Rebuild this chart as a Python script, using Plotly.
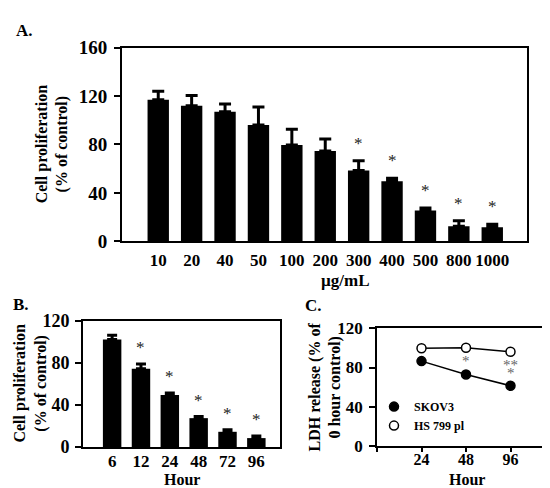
import plotly.graph_objects as go

# ---------------- data ----------------
conc_labels = ["10", "20", "40", "50", "100", "200", "300", "400", "500", "800", "1000"]
prolif_conc = [117, 112, 107, 96, 79.5, 74.5, 58.5, 49.5, 25.5, 12.5, 11.5]
prolif_conc_sd = [7, 8.5, 6.5, 15, 13, 10, 8, 2.5, 2, 4.5, 2.5]
sig_conc = ["", "", "", "", "", "", "*", "*", "*", "*", "*"]

hour_labels_b = ["6", "12", "24", "48", "72", "96"]
prolif_time = [102.5, 74.5, 49.5, 27.5, 14.5, 8.5]
prolif_time_sd = [4, 4.5, 2, 1.5, 2, 2]
sig_time = ["", "*", "*", "*", "*", "*"]

hour_labels_c = ["24", "48", "96"]
ldh_skov3 = [86.5, 73, 61.5]
ldh_hs799 = [99.5, 100, 96]
sig_ldh = ["", "*", "**|*"]

FONT = "Liberation Serif, Times New Roman, serif"
W, H = 550, 488


def px(x):
    return x / W


def py(y):
    return 1 - y / H


fig = go.Figure()

# ---- Panel A ----
fig.add_trace(go.Bar(
    x=conc_labels, y=prolif_conc, xaxis="x", yaxis="y",
    marker=dict(color="black", line=dict(width=0)), width=0.64,
    error_y=dict(type="data", symmetric=False, array=prolif_conc_sd,
                 arrayminus=[0] * len(prolif_conc), color="black", thickness=3, width=6),
    showlegend=False))

# ---- Panel B ----
fig.add_trace(go.Bar(
    x=hour_labels_b, y=prolif_time, xaxis="x2", yaxis="y2",
    marker=dict(color="black", line=dict(width=0)), width=0.64,
    error_y=dict(type="data", symmetric=False, array=prolif_time_sd,
                 arrayminus=[0] * len(prolif_time), color="black", thickness=3, width=5),
    showlegend=False))

# ---- Panel C ----
xc = list(range(len(hour_labels_c)))
fig.add_trace(go.Scatter(x=xc, y=ldh_skov3, xaxis="x3", yaxis="y3", mode="lines",
                         line=dict(color="black", width=1.5), showlegend=False))
fig.add_trace(go.Scatter(x=xc, y=ldh_hs799, xaxis="x3", yaxis="y3", mode="lines",
                         line=dict(color="black", width=1.5), showlegend=False))
fig.add_trace(go.Scatter(x=xc, y=ldh_skov3, xaxis="x3", yaxis="y3", mode="markers",
                         name="SKOV3",
                         marker=dict(symbol="circle", size=9, color="black",
                                     line=dict(color="black", width=1.5))))
fig.add_trace(go.Scatter(x=xc, y=ldh_hs799, xaxis="x3", yaxis="y3", mode="markers",
                         name="HS 799 pl",
                         marker=dict(symbol="circle", size=9, color="white",
                                     line=dict(color="black", width=1.5))))

annotations = []
# significance stars (x given as category index)
for i, (v, s, g) in enumerate(zip(prolif_conc, prolif_conc_sd, sig_conc)):
    if g:
        annotations.append(dict(x=i, y=v + s, xref="x", yref="y", text=g, showarrow=False,
                                yanchor="bottom", yshift=6,
                                font=dict(family=FONT, size=17, color="#222")))
for i, (v, s, g) in enumerate(zip(prolif_time, prolif_time_sd, sig_time)):
    if g:
        annotations.append(dict(x=i, y=v + s, xref="x2", yref="y2", text=g, showarrow=False,
                                yanchor="bottom", yshift=5,
                                font=dict(family=FONT, size=17, color="#222")))
for i, (v, g) in enumerate(zip(ldh_skov3, sig_ldh)):
    if g:
        parts = g.split("|")
        for k, part in enumerate(reversed(parts)):
            annotations.append(dict(x=i, y=v, xref="x3", yref="y3", text=part, showarrow=False,
                                    yanchor="bottom", yshift=3 + 8 * k,
                                    font=dict(family=FONT, size=15, color="#666")))

bold = dict(family=FONT, color="black")


def lab(text, x, y, size, angle=0):
    annotations.append(dict(x=px(x), y=py(y), xref="paper", yref="paper", text=text,
                            showarrow=False, xanchor="center", yanchor="middle",
                            textangle=angle, font=dict(size=size, **bold)))


lab("<b>A.</b>", 16, 13, 17)
lab("<b>B.</b>", 13, 299, 17)
lab("<b>C.</b>", 305, 300, 17)
lab("<b>Cell proliferation<br>(% of control)</b>", 44, 132, 16, -90)
lab("<b>µg/mL</b>", 337, 274, 17)
lab("<b>Cell proliferation<br>(% of control)</b>", 23, 382, 16, -90)
lab("<b>Hour</b>", 174, 482, 16)
lab("<b>LDH release (% of<br>0 hour control)</b>", 317, 386, 16, -90)
lab("<b>Hour</b>", 459, 482, 16)

tf = lambda s: dict(family=FONT, size=s, color="black", weight="bold")

axis_common = dict(showgrid=False, zeroline=False, showline=True, linecolor="black",
                   mirror=True)

fig.update_layout(
    width=W, height=H, margin=dict(l=0, r=0, t=0, b=0),
    plot_bgcolor="white", paper_bgcolor="white",
    xaxis=dict(domain=[px(114), px(519)], anchor="y", type="category",
               range=[-1.085, 11.04], ticks="", tickfont=tf(17),
               ticklabelstandoff=2, linewidth=2, **axis_common),
    yaxis=dict(domain=[py(233.3), py(31)], anchor="x", range=[0, 160],
               tickvals=[0, 40, 80, 120, 160], ticks="outside", ticklen=6, tickwidth=1.5,
               tickcolor="black", tickfont=tf(19), ticklabelstandoff=3,
               linewidth=2, **axis_common),
    xaxis2=dict(domain=[px(75), px(272)], anchor="y2", type="category",
                range=[-1.01, 5.82], ticks="", tickfont=tf(17),
                ticklabelstandoff=-2, linewidth=2, **axis_common),
    yaxis2=dict(domain=[py(448.3), py(316.7)], anchor="x2", range=[0, 120],
                tickvals=[0, 40, 80, 120], ticks="outside", ticklen=6, tickwidth=1.5,
                tickcolor="black", tickfont=tf(18), ticklabelstandoff=2,
                linewidth=2, **axis_common),
    xaxis3=dict(domain=[px(369), px(547)], anchor="y3", range=[-1, 3],
                tickvals=list(range(-1, len(hour_labels_c) + 1)),
                ticktext=[""] + hour_labels_c + [""],
                ticks="outside", ticklen=4, tickwidth=1.5, tickcolor="black",
                tickfont=tf(16), ticklabelstandoff=-6, linewidth=1.5, **axis_common),
    yaxis3=dict(domain=[py(447.7), py(324)], anchor="x3", range=[0, 120],
                tickvals=[0, 40, 80, 120], ticks="outside", ticklen=6, tickwidth=1.5,
                tickcolor="black", tickfont=tf(17), ticklabelstandoff=3,
                linewidth=1.5, **axis_common),
    legend=dict(x=px(366), y=py(416), xanchor="left", yanchor="middle",
                bgcolor="rgba(0,0,0,0)", font=dict(family=FONT, size=12, color="black",
                                                   weight="bold"),
                tracegroupgap=0, itemwidth=30),
    annotations=annotations,
)

fig.write_html("out.html")
